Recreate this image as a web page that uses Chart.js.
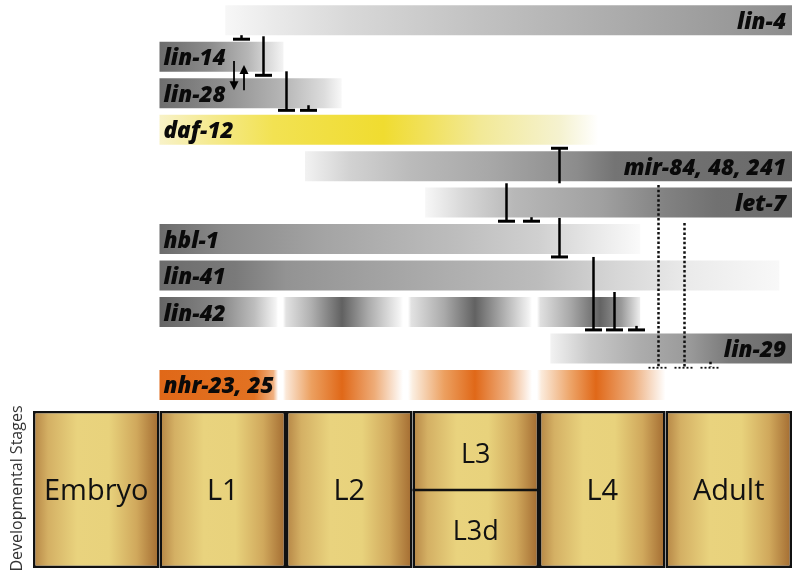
<!DOCTYPE html>
<html>
<head>
<meta charset="utf-8">
<script src="https://cdn.jsdelivr.net/npm/chart.js@4"></script>
<style>
html,body{margin:0;padding:0;background:#fff;}
#wrap{width:800px;height:574px;}
</style>
</head>
<body>
<div id="wrap"><canvas id="c" width="800" height="574"></canvas></div>
<script>
// ---------- DATA ----------
const genes      = ['lin-4','lin-14','lin-28','daf-12','mir-84, 48, 241','let-7','hbl-1','lin-41','lin-42','lin-29','nhr-23, 25'];
const geneRow    = [0,1,2,3,4,5,6,7,8,9,10];
const geneStart  = [1.52, 1.0, 1.0, 1.0, 2.15, 3.1, 1.0, 1.0, 1.0, 4.09, 1.0];
const geneEnd    = [6.0, 1.98, 2.44, 4.47, 6.0, 6.0, 4.8, 5.9, 4.8, 6.0, 5.0];
const labelSide  = ['right','left','left','left','right','right','left','left','left','right','left'];

const stages     = ['Embryo','L1','L2','L3','L4','Adult'];
const stageSub   = [null,null,null,'L3d',null,null];
const stageStart = [0,1,2,3,4,5];
const stageEnd   = [1,2,3,4,5,6];
const stageRow   = 12.866;
const stageAxisTitle = 'Developmental Stages';

// inhibitory links: x (stage units), from row, to row (bar at "to")
const inhibX    = [1.644, 1.818, 2.0, 2.174, 4.158, 3.739, 3.937, 4.158, 4.427, 4.593, 4.767];
const inhibFrom = [0.41, 0.44, 1.40, 2.33, 4.47, 4.47, 5.40, 5.42, 6.49, 7.45, 8.38];
const inhibTo   = [0.52, 1.51, 2.47, 2.47, 3.51, 5.51, 5.51, 6.49, 8.49, 8.49, 8.49];

// activating arrows between lin-14 and lin-28
const arrowX    = [1.589, 1.668];
const arrowFrom = [1.12, 1.92];
const arrowTo   = [1.92, 1.23];

// dotted (lin-29 related) links
const dotX    = [4.941, 5.146, 5.352];
const dotFrom = [4.52, 5.56, 9.36];
const dotTo   = [9.50, 9.50, 9.50];

// ---------- STYLE ----------
const geneGradients = {
  'lin-4': [[1.52,'#f7f7f7'],[1.9,'#eaeaea'],[2.5,'#d8d8d8'],[3.5,'#c2c2c2'],[4.5,'#aeaeae'],[5.5,'#9a9a9a'],[6,'#8c8c8c']],
  'lin-14': [[1.0,'#6c6c6c'],[1.4,'#8c8c8c'],[1.7,'#b6b6b6'],[1.98,'#f4f4f4']],
  'lin-28': [[1.0,'#6e6e6e'],[1.5,'#8e8e8e'],[2.0,'#b8b8b8'],[2.3,'#dcdcdc'],[2.44,'#f8f8f8']],
  'daf-12': [[1.0,'#f8f2c8'],[1.4,'#f5ea90'],[1.9,'#f2e252'],[2.77,'#f0dc30'],[3.11,'#f1e15c'],[3.53,'#f2e996'],[4.17,'#f5f2d0'],[4.47,'#ffffff']],
  'mir-84, 48, 241': [[2.15,'#f2f2f2'],[2.5,'#d2d2d2'],[3.0,'#bababa'],[3.6,'#a8a8a8'],[4.3,'#8c8c8c'],[4.6,'#747474'],[6,'#6a6a6a']],
  'let-7': [[3.1,'#f7f7f7'],[3.4,'#d8d8d8'],[3.8,'#b8b8b8'],[4.5,'#a0a0a0'],[5.0,'#828282'],[5.4,'#717171'],[6,'#6c6c6c']],
  'hbl-1': [[1.0,'#6c6c6c'],[1.5,'#8a8a8a'],[2.3,'#a4a4a4'],[3.3,'#bcbcbc'],[4.0,'#d0d0d0'],[4.4,'#e6e6e6'],[4.8,'#fafafa']],
  'lin-41': [[1.0,'#6c6c6c'],[1.6,'#7a7a7a'],[2.0,'#939393'],[3.0,'#a8a8a8'],[4.0,'#bcbcbc'],[4.6,'#d6d6d6'],[5.2,'#ebebeb'],[5.9,'#f8f8f8']],
  'lin-42': [[1.0,'#646464'],[1.5,'#8a8a8a'],[1.75,'#bdbdbd'],[1.92,'#f4f4f4'],[1.937,'#ffffff'],[1.976,'#ffffff'],[2.0,'#e2e2e2'],[2.2,'#b0b0b0'],[2.443,'#616161'],[2.65,'#aaaaaa'],[2.9,'#f4f4f4'],[2.925,'#ffffff'],[2.964,'#ffffff'],[2.99,'#e2e2e2'],[3.25,'#aaaaaa'],[3.494,'#626262'],[3.7,'#a8a8a8'],[3.92,'#f2f2f2'],[3.945,'#ffffff'],[3.984,'#ffffff'],[4.01,'#e0e0e0'],[4.25,'#a8a8a8'],[4.482,'#636363'],[4.65,'#999999'],[4.8,'#eeeeee']],
  'lin-29': [[4.09,'#f2f2f2'],[4.4,'#c8c8c8'],[4.8,'#acacac'],[5.2,'#999999'],[5.5,'#7a7a7a'],[6,'#6a6a6a']],
  'nhr-23, 25': [[1.0,'#e06818'],[1.75,'#e27222'],[1.9,'#f0b080'],[1.937,'#ffffff'],[1.976,'#ffffff'],[2.0,'#fbe8d8'],[2.2,'#eca060'],[2.443,'#e06818'],[2.7,'#eeac78'],[2.925,'#ffffff'],[2.964,'#ffffff'],[3.0,'#fbeee0'],[3.25,'#eca060'],[3.494,'#e06818'],[3.75,'#efb080'],[3.945,'#ffffff'],[3.984,'#ffffff'],[4.02,'#fbeada'],[4.25,'#eda468'],[4.45,'#e06818'],[4.75,'#eeb080'],[5.0,'#ffffff']]
};
const stageStops = [[0,'#b48444'],[0.12,'#d4b064'],[0.35,'#e9d37e'],[0.6,'#e8d27c'],[0.82,'#d0a85c'],[1,'#a26a30']];

function barGradient(chart, start, end, stops, absolute, fallback) {
  const xs = chart.scales && chart.scales.x;
  if (!xs || !chart.chartArea) return fallback;
  const a = xs.getPixelForValue(start), b = xs.getPixelForValue(end);
  if (!isFinite(a) || !isFinite(b) || a === b) return fallback;
  const g = chart.ctx.createLinearGradient(a, 0, b, 0);
  stops.forEach(([u, c]) => {
    let f = absolute ? (u - start) / (end - start) : u;
    f = Math.max(0, Math.min(1, f));
    g.addColorStop(f, c);
  });
  return g;
}

const overlay = {
  id: 'overlay',
  afterDatasetsDraw(chart) {
    const ctx = chart.ctx, xs = chart.scales.x, ys = chart.scales.y;
    ctx.save();
    // gene labels
    ctx.fillStyle = '#0a0a0a';
    ctx.font = 'italic 800 22.5px "Open Sans"';
    ctx.textBaseline = 'alphabetic';
    genes.forEach((g, i) => {
      const yc = ys.getPixelForValue(geneRow[i]);
      if (labelSide[i] === 'left') {
        ctx.textAlign = 'left';
        ctx.fillText(g, xs.getPixelForValue(geneStart[i]) + 4, yc + 8.5);
      } else {
        ctx.textAlign = 'right';
        ctx.fillText(g, xs.getPixelForValue(geneEnd[i]) - 6, yc + 8.5);
      }
    });
    // inhibition T-bars
    ctx.strokeStyle = '#000';
    ctx.lineCap = 'butt';
    inhibX.forEach((x, i) => {
      const px = Math.round(xs.getPixelForValue(x)) + 0.5;
      const y1 = ys.getPixelForValue(inhibFrom[i]);
      const y2 = ys.getPixelForValue(inhibTo[i]);
      ctx.lineWidth = 2.5;
      ctx.beginPath(); ctx.moveTo(px, y1); ctx.lineTo(px, y2); ctx.stroke();
      ctx.lineWidth = 3;
      ctx.beginPath(); ctx.moveTo(px - 8.5, y2); ctx.lineTo(px + 8.5, y2); ctx.stroke();
    });
    // arrows
    ctx.fillStyle = '#000';
    arrowX.forEach((x, i) => {
      const px = xs.getPixelForValue(x);
      const y1 = ys.getPixelForValue(arrowFrom[i]);
      const y2 = ys.getPixelForValue(arrowTo[i]);
      const dir = y2 > y1 ? 1 : -1;
      ctx.lineWidth = 1.8;
      ctx.beginPath(); ctx.moveTo(px, y1); ctx.lineTo(px, y2 - dir * 6); ctx.stroke();
      ctx.beginPath();
      ctx.moveTo(px, y2); ctx.lineTo(px - 4.5, y2 - dir * 9); ctx.lineTo(px + 4.5, y2 - dir * 9);
      ctx.closePath(); ctx.fill();
    });
    // dotted links
    ctx.strokeStyle = '#111';
    dotX.forEach((x, i) => {
      const px = Math.round(xs.getPixelForValue(x)) + 0.5;
      const y1 = ys.getPixelForValue(dotFrom[i]);
      const y2 = ys.getPixelForValue(dotTo[i]);
      ctx.lineWidth = 2.5;
      ctx.setLineDash([2.5, 2.2]);
      ctx.beginPath(); ctx.moveTo(px, y1); ctx.lineTo(px, y2); ctx.stroke();
      ctx.lineWidth = 1.8;
      ctx.setLineDash([2, 2]);
      ctx.beginPath(); ctx.moveTo(px - 10, y2 + 1); ctx.lineTo(px + 10, y2 + 1); ctx.stroke();
    });
    ctx.setLineDash([]);
    // stage texts
    const sc = ys.getPixelForValue(stageRow);
    ctx.fillStyle = '#111';
    ctx.textAlign = 'center';
    stages.forEach((s, i) => {
      const cx = (xs.getPixelForValue(stageStart[i]) + xs.getPixelForValue(stageEnd[i])) / 2;
      if (stageSub[i]) {
        ctx.strokeStyle = '#111';
        ctx.lineWidth = 2.5;
        ctx.beginPath();
        ctx.moveTo(xs.getPixelForValue(stageStart[i]), sc + 0.5);
        ctx.lineTo(xs.getPixelForValue(stageEnd[i]), sc + 0.5);
        ctx.stroke();
        ctx.font = '27px "Open Sans"';
        ctx.fillText(s, cx, sc - 27);
        ctx.fillText(stageSub[i], cx, sc + 50);
      } else {
        ctx.font = '29px "Open Sans"';
        ctx.fillText(s, cx, sc + 10);
      }
    });
    // axis title
    ctx.save();
    ctx.translate(22, sc - 1);
    ctx.rotate(-Math.PI / 2);
    ctx.fillStyle = '#333';
    ctx.font = '16px "Open Sans"';
    ctx.textAlign = 'center';
    ctx.fillText(stageAxisTitle, 0, 0);
    ctx.restore();
    ctx.restore();
  }
};

const chart = new Chart(document.getElementById('c'), {
  type: 'bar',
  data: {
    datasets: [
      {
        label: 'genes',
        stack: 'all',
        data: genes.map((g, i) => ({ x: [geneStart[i], geneEnd[i]], y: geneRow[i] })),
        barThickness: 30,
        borderWidth: 0,
        borderSkipped: false,
        inflateAmount: 0,
        backgroundColor: (c) => {
          const i = c.dataIndex;
          if (i === undefined || !genes[i]) return '#999';
          return barGradient(c.chart, geneStart[i], geneEnd[i], geneGradients[genes[i]], true, '#999');
        }
      },
      {
        label: 'stages',
        stack: 'all',
        data: stages.map((s, i) => ({ x: [stageStart[i], stageEnd[i]], y: stageRow })),
        barThickness: 157,
        borderWidth: 2.5,
        borderColor: '#111',
        borderSkipped: false,
        inflateAmount: 0,
        backgroundColor: (c) => {
          const i = c.dataIndex;
          if (i === undefined || stages[i] === undefined) return '#e0c070';
          return barGradient(c.chart, stageStart[i], stageEnd[i], stageStops, false, '#e0c070');
        }
      }
    ]
  },
  options: {
    indexAxis: 'y',
    responsive: false,
    animation: false,
    devicePixelRatio: 1,
    events: [],
    layout: { padding: { left: 33, right: 8, top: 2, bottom: 3 } },
    scales: {
      x: { type: 'linear', min: 0, max: 6, stacked: false, offset: false, display: false },
      y: { type: 'linear', min: -0.5, max: 15.1, reverse: true, offset: false, display: false }
    },
    plugins: { legend: { display: false }, tooltip: { enabled: false } }
  },
  plugins: [overlay]
});
chart.update('none');
</script>
</body>
</html>
